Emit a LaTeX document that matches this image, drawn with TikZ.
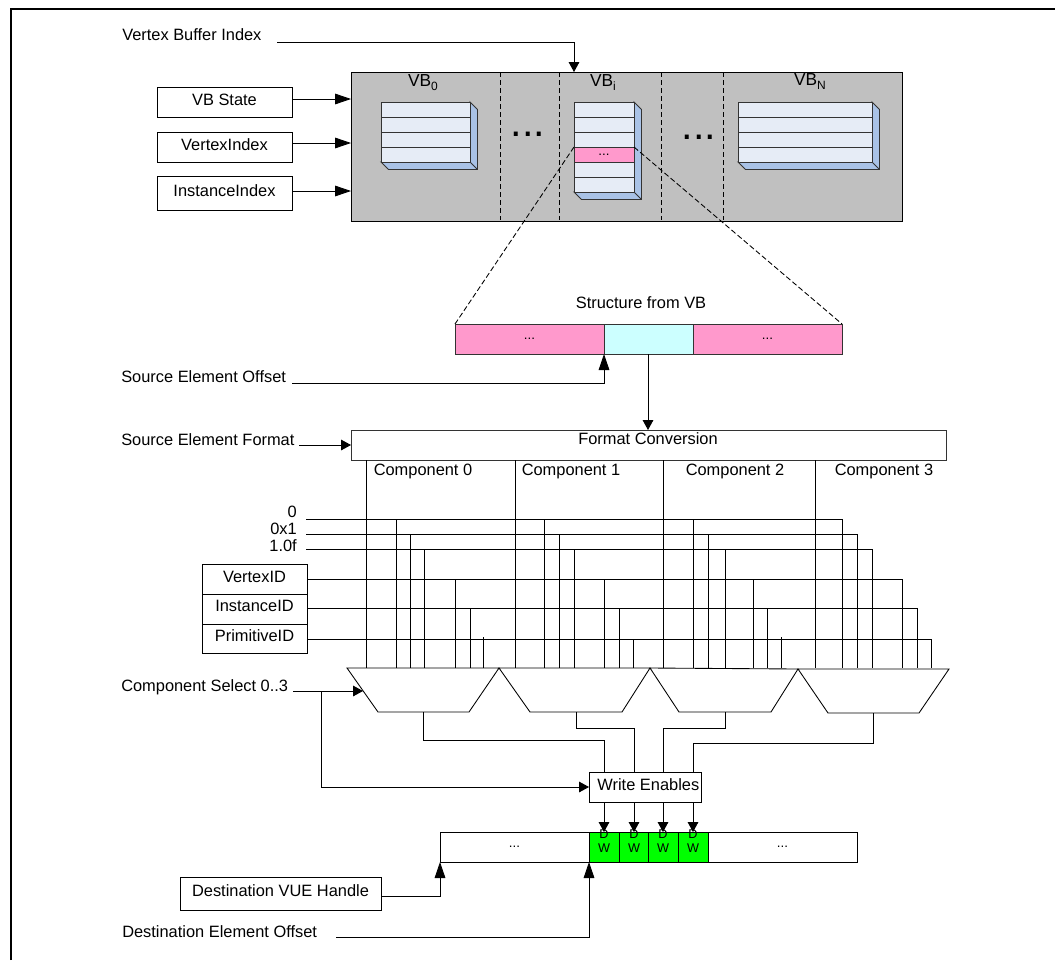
\documentclass[tikz,border=0pt]{standalone}
\usepackage{fontspec}
\setmainfont{Liberation Sans}
\usetikzlibrary{arrows.meta,calc}
\definecolor{vbgray}{HTML}{C0C0C0}
\definecolor{rowblue}{HTML}{E6ECF6}
\definecolor{sideblue}{HTML}{A9C2E6}
\definecolor{pinkfill}{HTML}{FF99CC}
\definecolor{cyanfill}{HTML}{CCFFFF}
\definecolor{dwgreen}{HTML}{00FF00}
\definecolor{linec}{HTML}{333333}
\newcommand{\bx}[7][]{\node[boxnode,#1,minimum width={(#5-#3)*0.75pt},minimum height={(#6-#4)*0.75pt}] (#2) at ({(#3+#5)/2},{(#4+#6)/2}) {#7};}
\newcommand{\cube}[5]{%
  \draw[linest,fill=sideblue] (#2,#4) -- ({#2+7.5},{#4+7.5}) -- ({#3+7.5},{#4+7.5}) -- ({#3+7.5},{102+7.5}) -- (#3,102) -- (#3,#4) -- cycle;
  \draw[linest] (#3,#4) -- ({#3+7.5},{#4+7.5});
  \bx[draw=linec,fill=rowblue]{#1}{#2}{102}{#3}{#4}{}
  \foreach \yy in {#5} {\draw[linest] (#2,\yy) -- (#3,\yy);}
}
\newcommand{\vbsub}[1]{VB\raisebox{-3pt}{\fontsize{9}{9}\selectfont #1}}
\tikzset{
  boxnode/.style={draw=black,line width=0.65pt,inner sep=0pt,outer sep=0pt,font=\fontsize{12.3}{14}\selectfont,text=black},
  linest/.style={draw=linec,line width=0.65pt},
  wire/.style={draw=black,line width=0.65pt,line join=miter},
  arrowline/.style={wire,-{Triangle[length=7.5pt,width=8pt]}},
  longarrow/.style={wire,-{Triangle[length=12pt,width=8pt]}},
  lbl/.style={inner sep=0pt,font=\fontsize{12.3}{14}\selectfont,text=black},
  vblbl/.style={inner sep=0pt,font=\fontsize{13}{15}\selectfont,text=black},
  bigdots/.style={inner sep=0pt,anchor=base,font=\fontsize{31}{34}\selectfont,text=black},
  zoomline/.style={draw=black,line width=0.65pt,dash pattern=on 4pt off 2pt},
  sep/.style={draw=black,line width=0.75pt,dash pattern=on 4pt off 2pt},
}
\begin{document}
\begin{tikzpicture}[x=0.75pt,y=-0.75pt]
\useasboundingbox (0,0) rectangle (1055,960);
% frame
\coordinate (ftl) at (11,9);
\coordinate (fbl) at (11,960);
\coordinate (ftr) at (1055,9);
\draw[black,line width=1.5pt] (fbl) -- (ftl) -- (ftr);

% vertex buffers
\bx[fill=vbgray]{vb}{351}{72}{902}{221}{}
\coordinate (vbd1a) at (500,72); \coordinate (vbd1b) at (500,220);
\coordinate (vbd2a) at (559,72); \coordinate (vbd2b) at (559,220);
\coordinate (vbd3a) at (661,72); \coordinate (vbd3b) at (661,220);
\coordinate (vbd4a) at (723,72); \coordinate (vbd4b) at (723,220);
\draw[sep] (vbd1a) -- (vbd1b);
\draw[sep] (vbd2a) -- (vbd2b);
\draw[sep] (vbd3a) -- (vbd3b);
\draw[sep] (vbd4a) -- (vbd4b);
\node[vblbl] (vb0lbl) at (423,83) {\vbsub{0}};
\node[vblbl] (vbilbl) at (603,83) {\vbsub{i}};
\node[vblbl] (vbnlbl) at (810,82) {\vbsub{N}};
\cube{cube0}{381}{470}{162}{117,132,147}
\cube{cubei}{574}{634}{192}{117,132,147,162,177}
\cube{cuben}{738}{872}{162}{117,132,147}
\bx[draw=linec,fill=pinkfill,font=\fontsize{10}{12}\selectfont]{pinkrow}{574}{147}{634}{162}{...}
\node[bigdots] (dots1) at (528,136) {...};
\node[bigdots] (dots2) at (699,139) {...};

% inputs to the buffers
\bx{vbstate}{157}{87}{292}{117}{\raisebox{3.75pt}{VB State}}
\bx{vtxindex}{157}{132}{292}{162}{\raisebox{3.75pt}{VertexIndex}}
\bx{instindex}{157}{176}{292}{210}{\raisebox{3.75pt}{InstanceIndex}}
\coordinate (a1) at (292,99);  \coordinate (a1e) at (351,99);
\coordinate (a2) at (292,143); \coordinate (a2e) at (351,143);
\coordinate (a3) at (292,191); \coordinate (a3e) at (351,191);
\draw[longarrow] (a1) -- (a1e);
\draw[longarrow] (a2) -- (a2e);
\draw[longarrow] (a3) -- (a3e);
\node[lbl,anchor=west] (vbidx) at (122,35) {Vertex Buffer Index};
\coordinate (vbidxs) at (277,42);
\coordinate (vbidxe) at (574,72);
\draw[arrowline] (vbidxs) -| (vbidxe);

% structure from VB
\node[lbl] (structlbl) at (641,303) {Structure from VB};
\bx[draw=linec,fill=pinkfill,font=\fontsize{10}{12}\selectfont]{st1}{455}{324}{604}{354}{...}
\bx[draw=linec,fill=cyanfill]{st2}{604}{324}{693}{354}{}
\bx[draw=linec,fill=pinkfill,font=\fontsize{10}{12}\selectfont]{st3}{693}{324}{842}{354}{...}
\draw[zoomline] (pinkrow.north west) -- (st1.north west);
\draw[zoomline] (pinkrow.north east) -- (st3.north east);

\node[lbl,anchor=west] (seo) at (121,377) {Source Element Offset};
\coordinate (seos) at (292,383);
\draw[longarrow] (seos) -| (st1.south east);
\node[lbl,anchor=west] (sef) at (121,440) {Source Element Format};
\coordinate (sefs) at (299,445);
\coordinate (sefe) at (351,445);
\draw[arrowline] (sefs) -- (sefe);

% format conversion
\bx[draw=linec]{fc}{351}{430}{946}{460}{}
\node[lbl] (fclbl) at (648,439) {Format Conversion};
\coordinate (fcin) at (648,430);
\draw[arrowline] (st2.south -| fcin) -- (fcin);
\node[lbl] (c0) at (423,471) {Component 0};
\node[lbl] (c1) at (571,471) {Component 1};
\node[lbl] (c2) at (735,471) {Component 2};
\node[lbl] (c3) at (884,471) {Component 3};

% muxes
\coordinate (m1a) at (347,668); \coordinate (m1b) at (378,712); \coordinate (m1c) at (469,712); \coordinate (m1d) at (499,668);
\coordinate (m2b) at (530,712); \coordinate (m2c) at (622,712); \coordinate (m2d) at (650,668);
\coordinate (m3b) at (679,712); \coordinate (m3c) at (771,712); \coordinate (m3d) at (798,669);
\coordinate (m4b) at (828,713); \coordinate (m4c) at (919,713); \coordinate (m4d) at (949,669);

% constant and ID sources
\node[lbl,anchor=east] (k0) at (297,512) {0};
\node[lbl,anchor=east] (k1) at (297,529) {0x1};
\node[lbl,anchor=east] (kf) at (297,546) {1.0f};
\bx{vid}{202}{564}{307}{594}{\raisebox{3.75pt}{VertexID}}
\bx{iid}{202}{594}{307}{624}{\raisebox{4.5pt}{InstanceID}}
\bx{pid}{202}{624}{307}{653}{\raisebox{4.5pt}{PrimitiveID}}

% rails
\coordinate (r0) at (306,519);   \coordinate (r0e) at (842,519);
\coordinate (r1) at (306,534);   \coordinate (r1e) at (857,534);
\coordinate (r2) at (306,549);   \coordinate (r2e) at (872,549);
\coordinate (r3) at (307,579);   \coordinate (r3e) at (902,579);
\coordinate (r4) at (307,608);   \coordinate (r4e) at (917,608);
\coordinate (r5) at (307,639);   \coordinate (r5e) at (931,639);
\foreach \a/\b in {r0/r0e,r1/r1e,r2/r2e,r3/r3e,r4/r4e,r5/r5e} {\draw[wire] (\a) -- (\b);}
% component lines
\foreach \x in {366,515,663,815} {\draw[wire] (\x,460) -- (\x,668);}
% select inputs
\foreach \x/\y in {396/519,410/534,424/549,455/579,470/608,483/637,
                   544/519,559/534,574/549,604/579,619/608,633/639,
                   693/519,708/534,725/549,753/579,767/608,781/637,
                   842/519,857/534,872/549,902/579,917/608,931/639} {\draw[wire] (\x,\y) -- (\x,668);}
\draw[wire] (m1a) -- (m1b) -- (m1c) -- (m1d) -- cycle;
\draw[wire] (m1d) -- (m2b) -- (m2c) -- (m2d) -- cycle;
\draw[wire] (m2d) -- (m3b) -- (m3c) -- (m3d) -- cycle;
\draw[wire] (m3d) -- (m4b) -- (m4c) -- (m4d) -- cycle;

\node[lbl,anchor=west] (csel) at (121,687) {Component Select 0..3};
\coordinate (csels) at (293,691);
\coordinate (csele) at (363,691);
\coordinate (cselb) at (321,691);
\draw[arrowline] (csels) -- (csele);

% write enables
\bx[fill=white]{we}{589}{772}{701}{802}{\hspace*{5pt}\raisebox{3pt}{Write Enables}}
\draw[arrowline] (cselb) |- (we.west);
\coordinate (w1) at (423,712); \coordinate (w2) at (576,712); \coordinate (w3) at (725,712); \coordinate (w4) at (873,713);
\coordinate (wt1) at (604,772); \coordinate (wt2) at (634,772); \coordinate (wt3) at (663,772); \coordinate (wt4) at (693,772);
\coordinate (wb1) at (604,802); \coordinate (wb2) at (634,802); \coordinate (wb3) at (663,802); \coordinate (wb4) at (693,802);
\draw[wire] (w1) -- (423,740) -| (wt1);
\draw[wire] (w2) -- (576,728) -| (wt2);
\draw[wire] (w3) -- (725,728) -| (wt3);
\draw[wire] (w4) -- (873,743) -| (wt4);

% destination bar
\tikzset{dw/.style={fill=dwgreen,align=center,font=\fontsize{9.5}{10.5}\selectfont}}
\bx[font=\fontsize{10}{12}\selectfont]{bar1}{440}{832}{589}{862}{...}
\bx[dw]{dw1}{589}{832}{619}{862}{\raisebox{0pt}{}}
\bx[dw]{dw2}{619}{832}{648}{862}{}
\bx[dw]{dw3}{648}{832}{678}{862}{}
\bx[dw]{dw4}{678}{832}{708}{862}{}
\bx[font=\fontsize{10}{12}\selectfont]{bar2}{708}{832}{857}{862}{...}
\draw[arrowline] (wb1) -- (dw1.north -| wb1);
\draw[arrowline] (wb2) -- (dw2.north -| wb2);
\draw[arrowline] (wb3) -- (dw3.north -| wb3);
\draw[arrowline] (wb4) -- (dw4.north -| wb4);
\tikzset{dwtext/.style={inner sep=0pt,align=center,font=\fontsize{9.5}{10.5}\selectfont,text=black}}
\node[dwtext] (dwt1) at (604,841) {D\\W};
\node[dwtext] (dwt2) at (634,841) {D\\W};
\node[dwtext] (dwt3) at (663,841) {D\\W};
\node[dwtext] (dwt4) at (693,841) {D\\W};

\bx{vue}{180}{877}{381}{910}{\raisebox{3.75pt}{Destination VUE Handle}}
\coordinate (vues) at (381,896);
\draw[longarrow] (vues) -| (bar1.south west);
\node[lbl,anchor=west] (deo) at (122,932) {Destination Element Offset};
\coordinate (deos) at (336,937);
\draw[longarrow] (deos) -| (bar1.south east);
\end{tikzpicture}
\end{document}
